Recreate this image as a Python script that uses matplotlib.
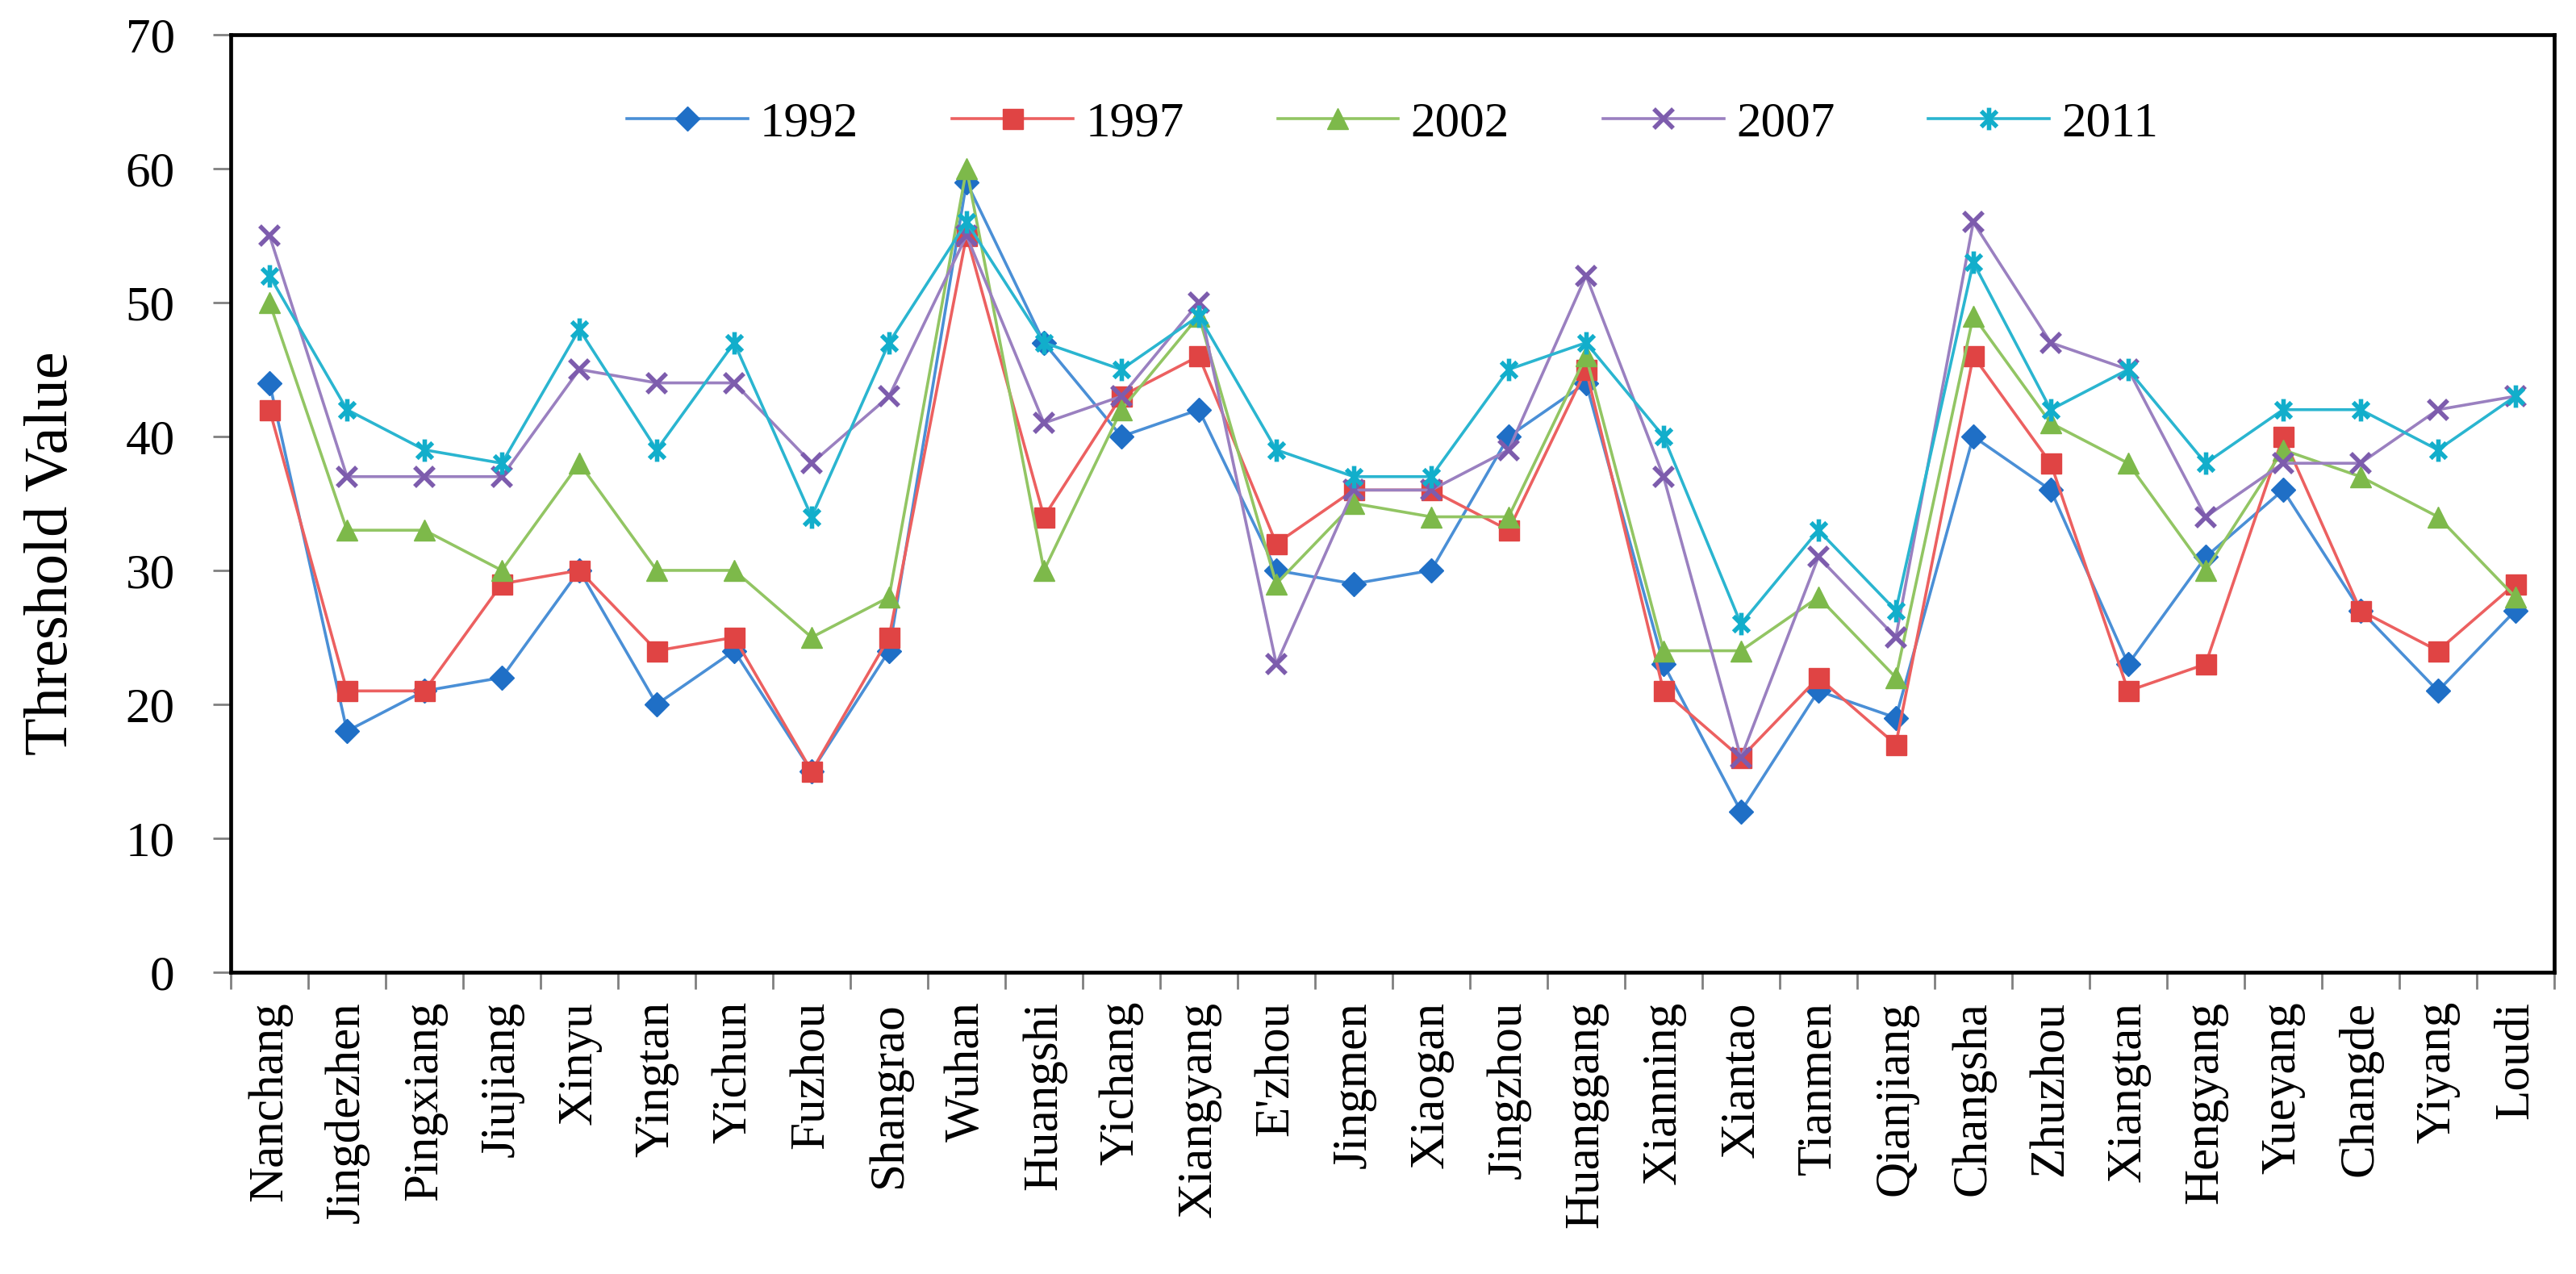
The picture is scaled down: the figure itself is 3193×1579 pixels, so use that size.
import matplotlib
matplotlib.use("Agg")
import matplotlib.pyplot as plt
from matplotlib.ticker import FixedLocator, MultipleLocator
from matplotlib.path import Path

cities = ["Nanchang", "Jingdezhen", "Pingxiang", "Jiujiang", "Xinyu", "Yingtan",
          "Yichun", "Fuzhou", "Shangrao", "Wuhan", "Huangshi", "Yichang",
          "Xiangyang", "E'zhou", "Jingmen", "Xiaogan", "Jingzhou", "Huanggang",
          "Xianning", "Xiantao", "Tianmen", "Qianjiang", "Changsha", "Zhuzhou",
          "Xiangtan", "Hengyang", "Yueyang", "Changde", "Yiyang", "Loudi"]

v1992 = [44, 18, 21, 22, 30, 20, 24, 15, 24, 59, 47, 40, 42, 30, 29, 30, 40, 44,
         23, 12, 21, 19, 40, 36, 23, 31, 36, 27, 21, 27]
v1997 = [42, 21, 21, 29, 30, 24, 25, 15, 25, 55, 34, 43, 46, 32, 36, 36, 33, 45,
         21, 16, 22, 17, 46, 38, 21, 23, 40, 27, 24, 29]
v2002 = [50, 33, 33, 30, 38, 30, 30, 25, 28, 60, 30, 42, 49, 29, 35, 34, 34, 46,
         24, 24, 28, 22, 49, 41, 38, 30, 39, 37, 34, 28]
v2007 = [55, 37, 37, 37, 45, 44, 44, 38, 43, 55, 41, 43, 50, 23, 36, 36, 39, 52,
         37, 16, 31, 25, 56, 47, 45, 34, 38, 38, 42, 43]
v2011 = [52, 42, 39, 38, 48, 39, 47, 34, 47, 56, 47, 45, 49, 39, 37, 37, 45, 47,
         40, 26, 33, 27, 53, 42, 45, 38, 42, 42, 39, 43]

series_names = ["1992", "1997", "2002", "2007", "2011"]
series_vals = [v1992, v1997, v2002, v2007, v2011]

plt.rcParams['font.family'] = ['Liberation Serif', 'DejaVu Serif']

# Excel-like star marker: X with a vertical bar
star = Path([(0, -1), (0, 1), (-0.7, -0.7), (0.7, 0.7), (-0.7, 0.7), (0.7, -0.7)],
            [Path.MOVETO, Path.LINETO, Path.MOVETO, Path.LINETO, Path.MOVETO, Path.LINETO])

fig = plt.figure(figsize=(31.93, 15.79), dpi=100)
ax = fig.add_axes([0.0896, 0.2369, 0.9915 - 0.0896, 0.9728 - 0.2369])

styles = [
    dict(color="#4A8FD6", marker="D", markersize=15, mfc="#1F6FC6", mec="#1F6FC6"),
    dict(color="#EC6060", marker="s", markersize=18, mfc="#E04444", mec="#E04444"),
    dict(color="#92C563", marker="^", markersize=19, mfc="#7DB94A", mec="#7DB94A"),
    dict(color="#9A80C0", marker="x", markersize=17, mfc="#7D5CAD", mec="#7D5CAD", mew=4),
    dict(color="#2AB5D0", marker=star, markersize=20, mfc="#12AECB", mec="#12AECB", mew=4),
]

x = list(range(len(cities)))
for name, vals, st in zip(series_names, series_vals, styles):
    ax.plot(x, vals, label=name, linewidth=2.6, **st)

ax.set_xlim(-0.5, len(cities) - 0.5)
ax.set_ylim(0, 70)
ax.yaxis.set_major_locator(MultipleLocator(10))

ax.set_xticks(x)
ax.set_xticklabels(cities, rotation=90, fontsize=44)
ax.xaxis.set_minor_locator(FixedLocator([i - 0.5 for i in range(len(cities) + 1)]))
ax.tick_params(axis='x', which='major', length=0, pad=26)
ax.tick_params(axis='x', which='minor', length=15, width=2, color="#808080", direction='out')
ax.tick_params(axis='y', which='major', length=16, width=2, color="#808080",
               direction='out', labelsize=44, pad=34)

for sp in ax.spines.values():
    sp.set_linewidth(3.4)
    sp.set_color("black")

ax.set_ylabel("Threshold Value", fontsize=55)
ax.yaxis.set_label_coords(-0.065, 0.447)

leg = ax.legend(loc='center', bbox_to_anchor=(0.5, 0.905), ncol=5, frameon=False,
                fontsize=44, handlelength=2.45, handletextpad=0.25, columnspacing=1.9)

fig.savefig("out.png", dpi=100, facecolor="white")
